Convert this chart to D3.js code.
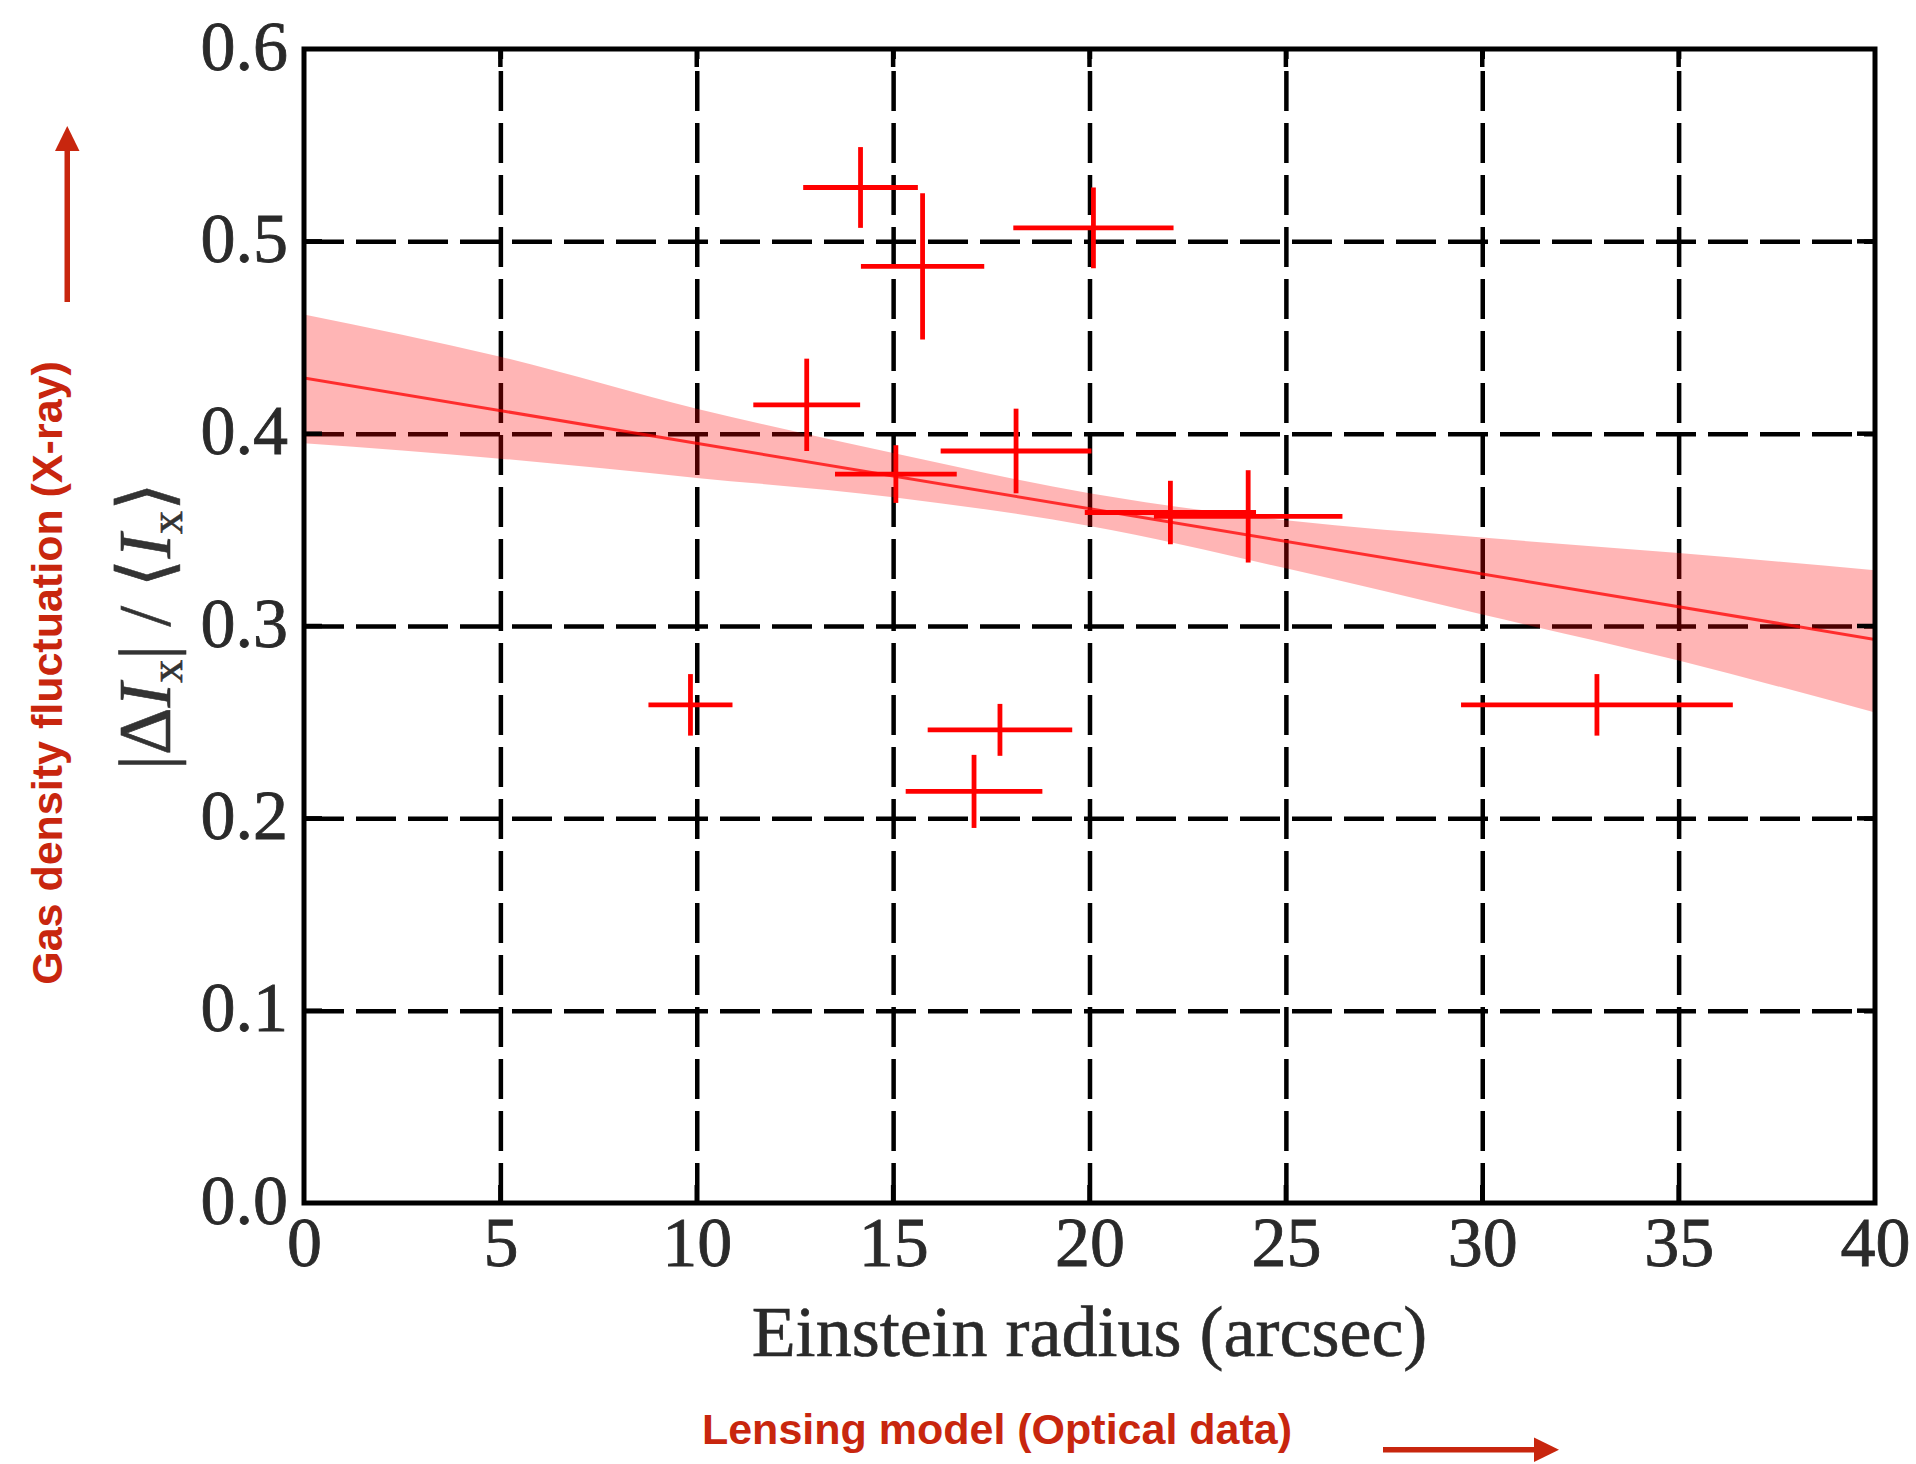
<!DOCTYPE html>
<html>
<head>
<meta charset="utf-8">
<script src="https://cdn.jsdelivr.net/npm/d3@7"></script>
<style>
  html, body { margin: 0; padding: 0; background: #fff; }
  svg { display: block; }
</style>
</head>
<body>
<svg id="chart" width="1916" height="1464"></svg>
<script>
// ---------------- data ----------------
const xTicks = [0, 5, 10, 15, 20, 25, 30, 35, 40];
const yTicks = [0.0, 0.1, 0.2, 0.3, 0.4, 0.5, 0.6];

// Einstein radius (arcsec) and gas density fluctuation, with errors
const radius    = [9.84, 12.80, 14.17, 15.07, 15.75, 17.06, 17.72, 18.13, 20.10, 22.06, 24.04, 32.92];
const radiusErr = [1.07, 1.36, 1.46, 1.55, 1.57, 1.74, 1.84, 1.92, 2.04, 2.18, 2.40, 3.46];
const fluct     = [0.259, 0.415, 0.528, 0.379, 0.487, 0.214, 0.246, 0.391, 0.507, 0.359, 0.357, 0.259];
const fluctErr  = [0.016, 0.024, 0.021, 0.015, 0.038, 0.019, 0.0135, 0.022, 0.021, 0.0165, 0.024, 0.016];

// linear fit and its confidence band
const fitX = [0, 40];
const fitY = [0.429, 0.293];
const bandX     = [0, 5, 10, 15, 20, 25, 30, 35, 40];
const bandUpper = [0.462, 0.440, 0.413, 0.390, 0.369, 0.355, 0.346, 0.338, 0.329];
const bandLower = [0.395, 0.387, 0.377, 0.367, 0.352, 0.330, 0.306, 0.282, 0.255];

const xTitle = "Einstein radius (arcsec)";
const noteX = "Lensing model (Optical data)";
const noteY = "Gas density fluctuation (X-ray)";

// ---------------- layout ----------------
const svg = d3.select("#chart");
const L = 304, R = 1875, T = 49, B = 1203;
const x = d3.scaleLinear().domain([0, 40]).range([L, R]);
const y = d3.scaleLinear().domain([0, 0.6]).range([B, T]);
const serif = "'Liberation Serif', 'Times New Roman', 'DejaVu Serif', serif";
const sans = "'Liberation Sans', Arial, Helvetica, sans-serif";
const noteColor = "#c8260e";
const inkColor = "#2a2a2a";

svg.append("defs").append("clipPath").attr("id", "plotclip")
  .append("rect").attr("x", L).attr("y", T).attr("width", R - L).attr("height", B - T);

// grid (dashed)
const grid = svg.append("g");
grid.append("g")
  .attr("transform", `translate(0,${B})`)
  .call(d3.axisBottom(x).tickValues(xTicks.slice(1, -1)).tickSize(-(B - T)).tickFormat(""))
  .call(g => g.select(".domain").remove())
  .call(g => g.selectAll("line").attr("stroke", "#000").attr("stroke-width", 4.5)
    .attr("stroke-dasharray", "40,12"));
grid.append("g")
  .attr("transform", `translate(${L},0)`)
  .call(d3.axisLeft(y).tickValues(yTicks.slice(1, -1)).tickSize(-(R - L)).tickFormat(""))
  .call(g => g.select(".domain").remove())
  .call(g => g.selectAll("line").attr("stroke", "#000").attr("stroke-width", 4.5)
    .attr("stroke-dasharray", "40,12"));

// confidence band
const bandData = bandX.map((v, i) => ({ x: v, lo: bandLower[i], hi: bandUpper[i] }));
const plot = svg.append("g").attr("clip-path", "url(#plotclip)");
plot.append("path")
  .datum(bandData)
  .attr("d", d3.area().x(d => x(d.x)).y0(d => y(d.lo)).y1(d => y(d.hi)).curve(d3.curveMonotoneX))
  .attr("fill", "#ff0000").attr("fill-opacity", 0.29);

// fit line
plot.append("path")
  .datum(fitX.map((v, i) => ({ x: v, y: fitY[i] })))
  .attr("d", d3.line().x(d => x(d.x)).y(d => y(d.y)))
  .attr("fill", "none").attr("stroke", "#ff0000").attr("stroke-opacity", 0.75).attr("stroke-width", 3);

// error bars
const pts = radius.map((r, i) => ({ r, re: radiusErr[i], f: fluct[i], fe: fluctErr[i] }));
const eb = plot.append("g").attr("stroke", "#ff0000").attr("stroke-width", 4.8).attr("fill", "none");
eb.selectAll("line.h").data(pts).join("line").attr("class", "h")
  .attr("x1", d => x(d.r - d.re)).attr("x2", d => x(d.r + d.re))
  .attr("y1", d => y(d.f)).attr("y2", d => y(d.f));
eb.selectAll("line.v").data(pts).join("line").attr("class", "v")
  .attr("x1", d => x(d.r)).attr("x2", d => x(d.r))
  .attr("y1", d => y(d.f - d.fe)).attr("y2", d => y(d.f + d.fe));

// frame
svg.append("rect").attr("x", L).attr("y", T).attr("width", R - L).attr("height", B - T)
  .attr("fill", "none").attr("stroke", "#000").attr("stroke-width", 5);

// inward ticks on all sides
const tk = svg.append("g").attr("stroke", "#000").attr("stroke-width", 4.5);
xTicks.slice(1, -1).forEach(v => {
  tk.append("line").attr("x1", x(v)).attr("x2", x(v)).attr("y1", B).attr("y2", B - 18);
  tk.append("line").attr("x1", x(v)).attr("x2", x(v)).attr("y1", T).attr("y2", T + 18);
});
yTicks.slice(1, -1).forEach(v => {
  tk.append("line").attr("x1", L).attr("x2", L + 18).attr("y1", y(v)).attr("y2", y(v));
  tk.append("line").attr("x1", R).attr("x2", R - 18).attr("y1", y(v)).attr("y2", y(v));
});

// tick labels via axes
svg.append("g")
  .attr("transform", `translate(0,${B})`)
  .call(d3.axisBottom(x).tickValues(xTicks).tickSize(0).tickPadding(0).tickFormat(d3.format("d")))
  .call(g => g.select(".domain").remove())
  .call(g => g.selectAll("text").attr("dy", null).attr("y", 63)
    .attr("font-family", serif).attr("font-size", 70).attr("fill", inkColor)
    .attr("stroke", inkColor).attr("stroke-width", 0.8));

svg.append("g")
  .attr("transform", `translate(${L},0)`)
  .call(d3.axisLeft(y).tickValues(yTicks).tickSize(0).tickPadding(0).tickFormat(d3.format(".1f")))
  .call(g => g.select(".domain").remove())
  .call(g => g.selectAll("text").attr("dy", null).attr("x", -16).attr("y", 20)
    .attr("font-family", serif).attr("font-size", 70).attr("fill", inkColor)
    .attr("stroke", inkColor).attr("stroke-width", 0.8));

// x-axis title
svg.append("text")
  .attr("x", (L + R) / 2).attr("y", 1356)
  .attr("text-anchor", "middle")
  .attr("font-family", serif).attr("font-size", 72).attr("fill", inkColor)
  .attr("stroke", inkColor).attr("stroke-width", 0.6)
  .text(xTitle);

// y-axis title: |ΔI_x| / ⟨I_x⟩
const yl = svg.append("text")
  .attr("transform", `translate(170,${(T + B) / 2}) rotate(-90)`)
  .attr("text-anchor", "middle")
  .attr("font-family", serif).attr("font-size", 74).attr("fill", "#333")
  .attr("stroke", "#333").attr("stroke-width", 0.6);
yl.append("tspan").text("|Δ");
yl.append("tspan").attr("font-style", "italic").text("I");
yl.append("tspan").attr("font-size", 46).attr("dy", 12).text("x");
yl.append("tspan").attr("dy", -12).text("| / ⟨");
yl.append("tspan").attr("font-style", "italic").text("I");
yl.append("tspan").attr("font-size", 46).attr("dy", 12).text("x");
yl.append("tspan").attr("dy", -12).text("⟩");

// red annotations
svg.append("text")
  .attr("x", 997).attr("y", 1444)
  .attr("text-anchor", "middle")
  .attr("font-family", sans).attr("font-weight", "bold").attr("font-size", 43)
  .attr("fill", noteColor)
  .text(noteX);

svg.append("text")
  .attr("transform", "translate(62,673) rotate(-90)")
  .attr("text-anchor", "middle")
  .attr("font-family", sans).attr("font-weight", "bold").attr("font-size", 43)
  .attr("fill", noteColor)
  .text(noteY);

// arrows
const arrows = svg.append("g").attr("fill", noteColor).attr("stroke", "none");
// horizontal arrow
arrows.append("rect").attr("x", 1383).attr("y", 1447).attr("width", 154).attr("height", 5.5);
arrows.append("path").attr("d", "M1534,1437.5 L1559,1449.75 L1534,1462 Z");
// vertical arrow
arrows.append("rect").attr("x", 64.5).attr("y", 148).attr("width", 5.5).attr("height", 154);
arrows.append("path").attr("d", "M55,151 L67.25,126 L79.5,151 Z");
</script>
</body>
</html>
